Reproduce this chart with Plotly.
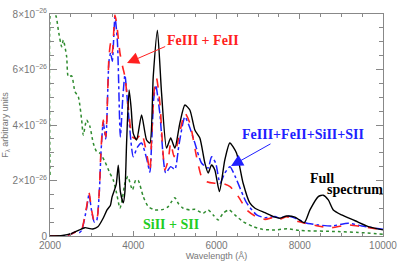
import plotly.graph_objects as go

# Full spectrum (black)
full_x = [2000, 2300, 2500, 2600, 2750, 2840, 3030, 3150, 3280, 3370, 3450, 3490, 3590, 3640, 3690, 3760,
          3800, 3840, 3900, 3950, 4000, 4080, 4200, 4320, 4400, 4480, 4580, 4680, 4800, 4900, 5000, 5120,
          5240, 5360, 5480, 5600, 5720, 5800, 5880, 5960, 6070, 6200, 6320, 6480, 6640, 6800, 6925, 7165,
          7405, 7525, 7685, 7885, 8110, 8245, 8445, 8565, 8686, 8806, 9006, 9330, 9650, 10000]
full_y = [0.0, 0.02, 0.08, 0.15, 0.25, 0.3, 0.25, 0.33, 0.65, 0.94, 1.1, 1.4, 1.85, 2.55, 1.6, 1.2,
          1.6, 3.35, 5.26, 4.6, 3.7, 3.46, 4.36, 3.46, 3.35, 5.74, 7.42, 5.15, 3.17, 3.53, 3.17, 4.07,
          4.72, 4.54, 3.82, 3.53, 2.63, 2.27, 2.56, 2.38, 1.6, 2.74, 3.35, 2.99, 1.9, 1.19, 1.0, 0.84,
          0.68, 0.64, 0.72, 0.68, 0.48, 0.94, 1.42, 1.47, 1.30, 0.94, 0.76, 0.55, 0.34, 0.22]

# FeIII + FeII (red dashed)
fe_x = [2000, 2400, 2550, 2620, 2700, 2760, 2880, 2937, 3000, 3065, 3120, 3185, 3225, 3280, 3340, 3417,
        3457, 3497, 3560, 3600, 3680, 3745, 3800, 3880, 3977, 4080, 4200, 4320, 4400, 4440, 4500, 4560,
        4640, 4760, 4840, 4900, 4980, 5080, 5240, 5360, 5520, 5640, 5760, 5960, 6125, 6325, 6525, 6725,
        6925, 7165, 7405, 7525, 7685, 7965, 8125, 8440, 8765, 9165, 9490, 10000]
fe_y = [0.0, 0.02, 0.1, 0.15, 0.12, 0.21, 1.06, 1.56, 0.94, 0.52, 0.55, 1.66, 3.1, 4.18, 3.58, 6.46,
        6.95, 6.6, 7.96, 7.67, 6.6, 6.1, 5.74, 4.66, 3.58, 3.5, 3.7, 2.99, 2.35, 3.5, 5.2, 5.68,
        4.78, 2.38, 2.74, 3.35, 2.86, 3.46, 4.43, 4.07, 2.86, 2.14, 1.96, 1.9, 1.9, 1.78, 1.42, 0.94,
        0.72, 0.6, 0.68, 0.6, 0.7, 0.52, 0.46, 0.36, 0.3, 0.4, 0.34, 0.22]

# FeIII+FeII+SiII+SII (blue dash-dot)
all_x = [2000, 2400, 2550, 2620, 2700, 2760, 2880, 2937, 3000, 3065, 3120, 3185, 3225, 3280, 3340, 3417,
         3457, 3497, 3560, 3620, 3690, 3750, 3800, 3880, 4000, 4100, 4200, 4320, 4400, 4440, 4490, 4540,
         4640, 4780, 4900, 5000, 5100, 5240, 5360, 5480, 5640, 5800, 5880, 5980, 6085, 6200, 6325, 6450,
         6725, 6965, 7165, 7405, 7525, 7685, 7965, 8125, 8440, 8765, 9165, 9490, 10000]
all_y = [0.0, 0.02, 0.1, 0.15, 0.12, 0.2, 1.0, 1.5, 0.9, 0.5, 0.55, 1.6, 3.0, 4.1, 3.5, 6.3,
         6.6, 6.3, 7.9, 7.0, 3.58, 5.0, 5.8, 4.5, 2.86, 3.2, 3.35, 2.8, 2.3, 3.3, 4.9, 5.44,
         4.4, 2.27, 2.5, 2.4, 3.3, 4.3, 3.9, 3.35, 2.63, 2.45, 2.86, 2.63, 1.9, 2.27, 2.5, 2.14,
         1.19, 0.76, 0.66, 0.7, 0.64, 0.72, 0.6, 0.48, 0.4, 0.36, 0.46, 0.36, 0.24]

# SiII + SII (green dotted)
si_x = [2000, 2020, 2080, 2150, 2200, 2280, 2320, 2400, 2440, 2520, 2600, 2680, 2760, 2800, 2880, 2960,
        3040, 3120, 3200, 3320, 3440, 3520, 3600, 3680, 3720, 3800, 3870, 3980, 4060, 4120, 4240, 4360,
        4520, 4720, 4840, 4920, 5000, 5080, 5200, 5360, 5480, 5680, 5800, 5920, 6040, 6160, 6300, 6440,
        6640, 6880, 7100, 7400, 7700, 8000, 8920, 9400, 10000]
si_y = [2.2, 8.3, 8.1, 7.9, 7.42, 6.82, 7.06, 6.46, 5.74, 5.77, 5.2, 5.02, 4.18, 3.64, 4.18, 3.94,
        3.34, 3.04, 2.98, 2.68, 2.26, 2.02, 1.54, 1.0, 1.2, 1.9, 2.14, 1.66, 2.02, 2.0, 1.42, 1.06,
        0.94, 0.96, 1.06, 1.24, 1.38, 1.18, 1.0, 0.94, 0.96, 0.82, 0.94, 0.76, 0.58, 0.82, 0.94, 0.76,
        0.52, 0.34, 0.24, 0.22, 0.26, 0.2, 0.16, 0.13, 0.06]

y_tickvals = [0, 2, 4, 6, 8]
y_ticktext = ["0", "2×10<sup>−26</sup>", "4×10<sup>−26</sup>", "6×10<sup>−26</sup>", "8×10<sup>−26</sup>"]
x_tickvals = [2000, 4000, 6000, 8000, 10000]
x_ticktext = ["2000", "4000", "6000", "8000", "10000"]

fig = go.Figure()
fig.add_trace(go.Scatter(x=si_x, y=si_y, mode="lines",
                         line=dict(color="#2e8b2e", width=1.5, dash="dot", shape="spline", smoothing=0.6)))
fig.add_trace(go.Scatter(x=all_x, y=all_y, mode="lines",
                         line=dict(color="#2020ff", width=1.5, dash="dashdot", shape="spline", smoothing=0.6)))
fig.add_trace(go.Scatter(x=fe_x, y=fe_y, mode="lines",
                         line=dict(color="#ff2020", width=1.6, dash="dash", shape="spline", smoothing=0.6)))
fig.add_trace(go.Scatter(x=full_x, y=full_y, mode="lines",
                         line=dict(color="black", width=1.4, shape="spline", smoothing=0.6)))

serif = "Liberation Serif"
ann = [
    dict(x=5676, y=7.03, text="<b>FeIII + FeII</b>", color="#ff2020"),
    dict(x=8078, y=3.64, text="<b>FeIII+FeII+SiII+SII</b>", color="#2020ff"),
    dict(x=8535, y=2.09, text="<b>Full</b>", color="black"),
    dict(x=9327, y=1.66, text="<b>spectrum</b>", color="black"),
    dict(x=4907, y=0.40, text="<b>SiII + SII</b>", color="#22cc22"),
]
for a in ann:
    fig.add_annotation(x=a["x"], y=a["y"], text=a["text"], showarrow=False,
                       font=dict(family=serif, size=14, color=a["color"]), xanchor="center", yanchor="middle")

fig.add_annotation(x=3850, y=6.23, ax=4803, ay=6.85, axref="x", ayref="y", text="", showarrow=True,
                   arrowhead=2, arrowsize=2.4, arrowwidth=1, arrowcolor="#ff2020")
fig.add_annotation(x=6348, y=2.52, ax=7333, ay=3.35, axref="x", ayref="y", text="", showarrow=True,
                   arrowhead=2, arrowsize=2.4, arrowwidth=1, arrowcolor="#2020ff")

axis_common = dict(showgrid=False, zeroline=False, showline=True, linecolor="#888888", linewidth=1,
                   mirror="ticks", ticks="inside", tickcolor="#888888", automargin=False,
                   tickfont=dict(family="Liberation Sans", size=10, color="#777777"))

fig.update_xaxes(range=[2000, 10000], tickvals=x_tickvals, ticktext=x_ticktext, ticklen=5,
                 minor=dict(ticks="inside", ticklen=3, dtick=500, tickcolor="#888888", showgrid=False),
                 title=dict(text="Wavelength (Å)", font=dict(family="Liberation Sans", size=9, color="#777777"),
                            standoff=2),
                 **axis_common)
fig.update_yaxes(range=[0, 8], tickvals=y_tickvals, ticktext=y_ticktext, ticklen=7,
                 minor=dict(ticks="inside", ticklen=4, dtick=0.5, tickcolor="#888888", showgrid=False),
                 title=dict(text="F<sub>λ</sub> arbitrary units",
                            font=dict(family="Liberation Sans", size=9, color="#777777"), standoff=2),
                 **axis_common)

fig.update_layout(width=399, height=266, margin=dict(l=50, r=16, t=14, b=30),
                  plot_bgcolor="white", paper_bgcolor="white", showlegend=False)

fig.write_html("out.html", config={"displayModeBar": False},
               post_script="document.body.style.margin='0';document.body.style.overflow='hidden';")
